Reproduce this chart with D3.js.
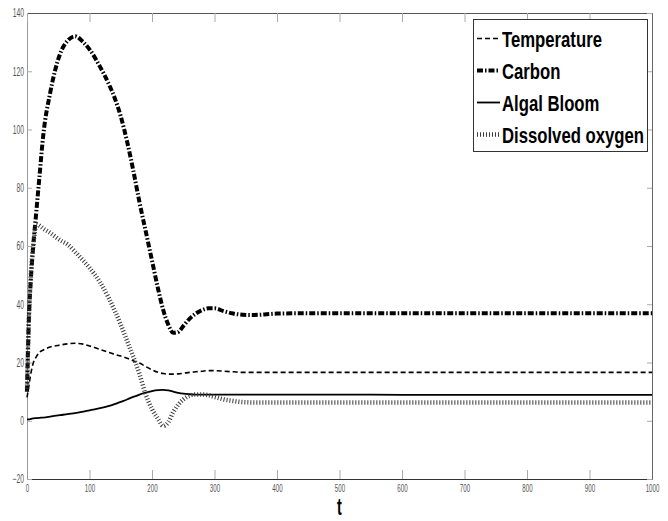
<!DOCTYPE html>
<html><head><meta charset="utf-8">
<script src="https://cdn.jsdelivr.net/npm/d3@7"></script>
<style>
html,body{margin:0;padding:0;background:#fff;}
svg{display:block;}
</style></head>
<body>
<svg id="chart" width="668" height="521"></svg>
<script>
// ---- data ----
const time = [0,3,6,10,15,20,26,37,53,65,77,90,100,117,130,140,150,160,170,180,190,200,210,218,226,234,242,250,260,270,280,290,300,315,330,345,360,380,400,450,500,600,700,800,900,1000];
const temperature = [8,12,16,19.8,22,23.5,24.3,25.3,26,26.4,26.6,26.3,25.7,24.5,23.5,22.8,22.2,21.5,20.6,19.8,18.6,17.5,16.6,16.2,16.0,16.0,16.1,16.3,16.6,16.8,17.0,17.2,17.2,17.0,16.8,16.6,16.6,16.6,16.6,16.6,16.6,16.6,16.6,16.6,16.6,16.6];
const carbon = [10,35,48,60,72,84,98,112.5,126,130.5,132,130,127.5,121.5,116,111,104.5,96,86,75,65,55,45,38,33,30.2,30.5,32.5,35,36.8,38,38.6,38.6,37.6,36.8,36.4,36.3,36.5,36.8,36.9,36.9,36.9,36.9,36.9,36.9,36.9];
const algalBloom = [0.5,0.5,0.6,0.8,0.9,1.0,1.1,1.4,1.9,2.3,2.6,3.1,3.6,4.3,5.0,5.7,6.5,7.3,8.2,9.0,9.7,10.2,10.5,10.6,10.4,10.0,9.6,9.3,9.1,9.0,9.0,9.0,9.0,9.0,9.0,9.0,9.0,9.0,9.0,9.0,9.0,8.9,8.9,8.9,8.9,8.9];
const dissolvedOxygen = [10,35,50,60,67.5,67,66,64.5,62,60.5,58,55,52.5,47.5,42.5,38,33,27.5,22,16,9,4,0.5,-1.8,-0.5,3,5.5,7.3,8.6,9,9,8.8,8.2,7.3,6.8,6.4,6.3,6.3,6.3,6.3,6.3,6.3,6.3,6.3,6.3,6.3];
const xTicks = [0,100,200,300,400,500,600,700,800,900,1000];
const yTicks = [-20,0,20,40,60,80,100,120,140];
const seriesNames = ["Temperature","Carbon","Algal Bloom","Dissolved oxygen"];
const xLabel = "t";

// ---- styles ----
const styles = [
  {data: temperature, color:"#000", width:1.6, dash:"5,3"},
  {data: carbon, color:"#000", width:4, dash:"6,2,1.5,2"},
  {data: algalBloom, color:"#000", width:1.8, dash:null},
  {data: dissolvedOxygen, color:"#3a3a3a", width:4.5, dash:"1,2"}
];

const svg = d3.select("#chart");
const L=27, R=652, T=13, B=479;
const x = d3.scaleLinear().domain([0,1000]).range([L,R]);
const y = d3.scaleLinear().domain([-20,140]).range([B,T]);
const sx = 0.56;
const fmt = d3.format("d");

// axes
const gB = svg.append("g").attr("transform",`translate(0,${B})`)
  .call(d3.axisBottom(x).tickValues(xTicks).tickFormat(fmt).tickSizeInner(-9).tickSizeOuter(0).tickPadding(5));
const gL = svg.append("g").attr("transform",`translate(${L},0)`)
  .call(d3.axisLeft(y).tickValues(yTicks).tickFormat(fmt).tickSizeInner(-5).tickSizeOuter(0).tickPadding(3));
const gT = svg.append("g").attr("transform",`translate(0,${T})`)
  .call(d3.axisTop(x).tickValues(xTicks).tickSizeInner(-9).tickSizeOuter(0).tickFormat(""));
const gR = svg.append("g").attr("transform",`translate(${R},0)`)
  .call(d3.axisRight(y).tickValues(yTicks).tickSizeInner(-5).tickSizeOuter(0).tickFormat(""));

[gB,gL,gT,gR].forEach(g=>{
  g.selectAll(".tick line").attr("stroke","#aaa").attr("stroke-width",1);
  g.selectAll("text").attr("fill","#555").style("font-family","Liberation Sans, Arial, sans-serif");
});
gB.selectAll("text").style("font-size","11px");
gL.selectAll("text").style("font-size","12px");
gB.select(".domain").attr("stroke","#333");
gT.select(".domain").attr("stroke","#555");
gL.select(".domain").attr("stroke","#999");
gR.select(".domain").attr("stroke","#666");
gB.selectAll(".tick text").attr("transform",`scale(${sx},1)`);
gL.selectAll(".tick text").attr("transform",`scale(${sx},1)`).attr("x",-3/sx);

// lines
const line = d3.line().x((d,i)=>x(time[i])).y(d=>y(d)).curve(d3.curveMonotoneX);
const plot = svg.append("g");
styles.forEach(s=>{
  plot.append("path").datum(s.data)
    .attr("d",line).attr("fill","none")
    .attr("stroke",s.color).attr("stroke-width",s.width)
    .attr("stroke-dasharray",s.dash);
});

// legend
const lg = svg.append("g");
lg.append("rect").attr("x",473.5).attr("y",19.5).attr("width",174).attr("height",132)
  .attr("fill","#fff").attr("stroke","#333").attr("stroke-width",1);
seriesNames.forEach((name,i)=>{
  const by = 46.5 + i*32;
  const s = styles[i];
  lg.append("line").attr("x1",477).attr("x2",500).attr("y1",by-8).attr("y2",by-8)
    .attr("stroke",s.color).attr("stroke-width",s.width).attr("stroke-dasharray",s.dash);
  lg.append("g").attr("transform",`translate(502,${by})`)
    .append("text").attr("transform","scale(0.76,1)")
    .style("font-family","Liberation Sans, Arial, sans-serif").style("font-weight","bold").style("font-size","22px")
    .attr("fill","#000").text(name);
});

// x label
svg.append("g").attr("transform",`translate(${(L+R)/2},515)`)
  .append("text").attr("transform","scale(0.6,1)").attr("text-anchor","middle")
  .style("font-family","Liberation Sans, Arial, sans-serif").style("font-weight","bold").style("font-size","24px")
  .text(xLabel);
</script>
</body></html>
